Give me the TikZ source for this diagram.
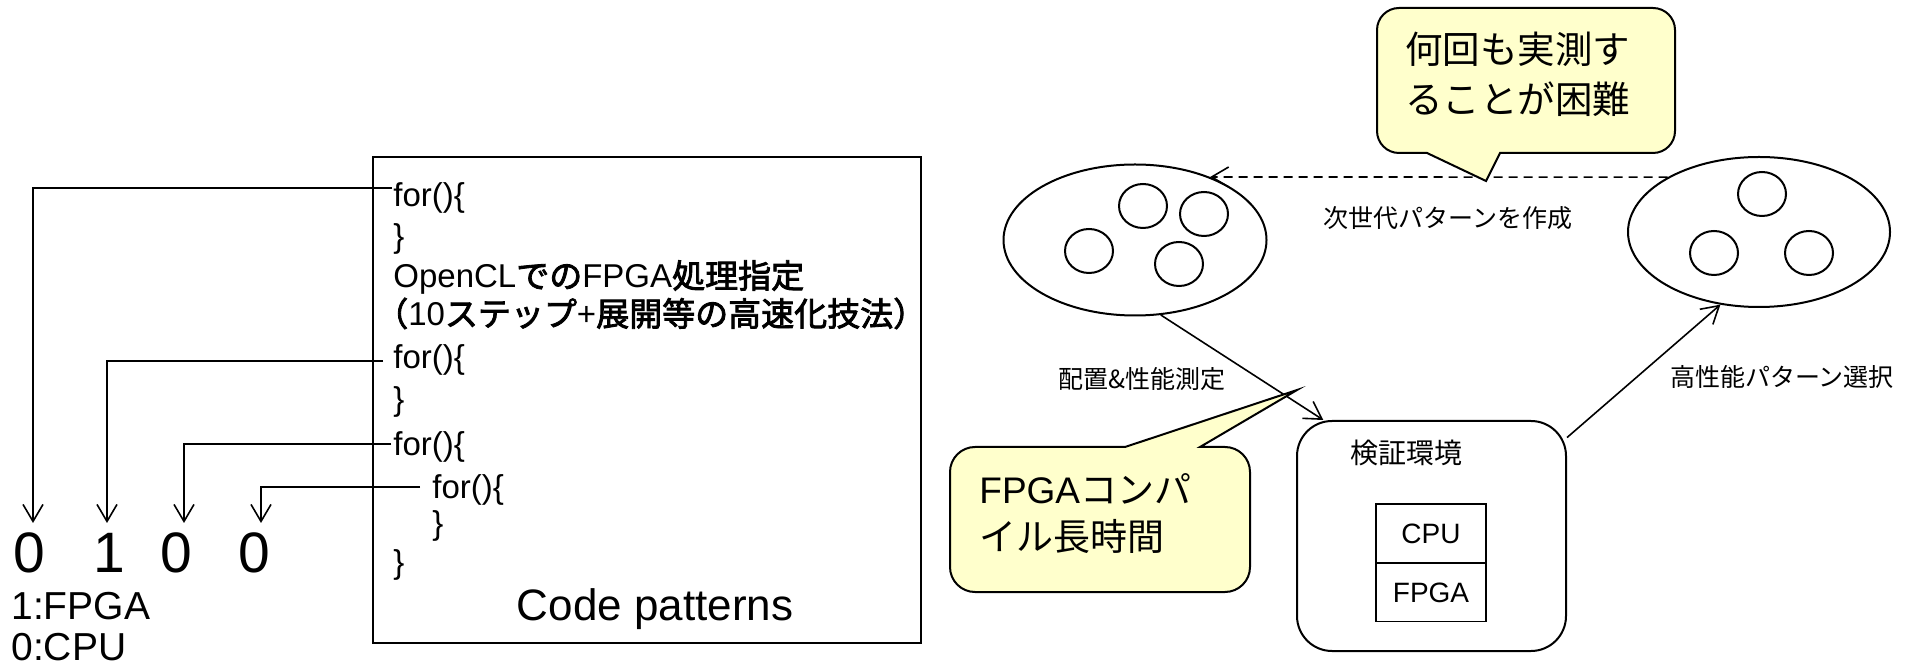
\documentclass[tikz,border=0pt]{standalone}
\usepackage{fontspec}
\setmainfont{Liberation Sans}
\newfontfamily\ja{Noto Sans CJK JP}
\newfontfamily\jab{Noto Sans CJK JP}[FakeBold=2.5]
\usetikzlibrary{arrows.meta,shapes.geometric}
\definecolor{calloutfill}{RGB}{255,255,204}
\tikzset{
  conn/.style={line width=0.8pt,-{Straight Barb[length=8.5pt,width=10pt]}},
  codeline/.style={anchor=base west,inner sep=0pt,font=\fontsize{16.5}{20}\selectfont},
  digit/.style={anchor=base,inner sep=0pt,font=\fontsize{28.5}{34}\selectfont},
  legend/.style={anchor=base west,inner sep=0pt,font=\fontsize{19.5}{23}\selectfont},
  pop/.style={ellipse,draw,line width=1pt,inner sep=0pt,minimum width=131.5pt,minimum height=75.5pt},
  pcirc/.style={ellipse,draw,line width=1pt,inner sep=0pt,minimum width=24pt,minimum height=22pt},
  lbl/.style={inner sep=0pt,font=\ja\fontsize{12.5}{15}\selectfont},
  callshape/.style={draw,line width=1pt,fill=calloutfill},
  calltext/.style={anchor=base west,inner sep=0pt,font=\fontsize{18.5}{22}\selectfont},
}
\begin{document}
\begin{tikzpicture}[x=0.5pt,y=-0.5pt]
\useasboundingbox (0,0) rectangle (1910,667);

% ---------- code box ----------
\node[draw,line width=0.8pt,minimum width=274pt,minimum height=243pt,inner sep=0pt] (codebox) at (647,400) {};
\node[codeline] (for1) at (393,207) {for()\{};
\node[codeline] (br1) at (393,248) {\}};
\node[codeline] (ocl) at (393,288) {OpenCL{\jab での}FPGA{\jab 処理指定}};
\node[codeline] (par) at (393,326) {{\jab\kern-0.55em （}10{\jab ステップ}+{\jab 展開等の高速化技法）}};
\node[codeline] (for2) at (393,369) {for()\{};
\node[codeline] (br2) at (393,411) {\}};
\node[codeline] (for3) at (393,456) {for()\{};
\node[codeline] (for4) at (432,499) {for()\{};
\node[codeline] (br3) at (432,534) {\}};
\node[codeline] (br4) at (393,573) {\}};
\node[anchor=base,inner sep=0pt,font=\fontsize{22}{26}\selectfont] (cpat) at (655,620) {Code patterns};

% ---------- digits ----------
\node[digit] (d1) at (29,572) {0};
\node[digit] (d2) at (109,572) {1};
\node[digit] (d3) at (176,572) {0};
\node[digit] (d4) at (254,572) {0};
\node[legend] (lg1) at (11,619) {1:FPGA};
\node[legend] (lg2) at (11,660) {0:CPU};

\coordinate (s1) at (392,188);
\coordinate (s2) at (383,361);
\coordinate (s3) at (391,444);
\coordinate (s4) at (420,487);
\coordinate (t1) at (33,523);
\coordinate (t2) at (107,523);
\coordinate (t3) at (184,523);
\coordinate (t4) at (261,523);
\draw[conn] (s1) -| (t1);
\draw[conn] (s2) -| (t2);
\draw[conn] (s3) -| (t3);
\draw[conn] (s4) -| (t4);

% ---------- populations ----------
\node[pop] (popL) at (1135,240) {};
\node[pcirc] (cL1) at (1143,206) {};
\node[pcirc] (cL2) at (1204,214) {};
\node[pcirc] (cL3) at (1089,251) {};
\node[pcirc] (cL4) at (1179,264) {};

\node[pop,minimum width=131pt,minimum height=75pt] (popR) at (1759,232) {};
\node[pcirc] (cR1) at (1762,194) {};
\node[pcirc] (cR2) at (1714,253) {};
\node[pcirc] (cR3) at (1809,253) {};

% ---------- verification environment ----------
\node[draw,line width=1pt,rounded corners=17.5pt,minimum width=134.5pt,minimum height=115pt,inner sep=0pt] (verify) at (1431.5,536) {};
\node[lbl,font=\ja\fontsize{14}{17}\selectfont] (vlabel) at (1406,453) {検証環境};
\node[draw,line width=0.8pt,minimum width=55pt,minimum height=29.5pt,inner sep=0pt,font=\fontsize{14}{17}\selectfont] (cpu) at (1431,533.5) {CPU};
\node[draw,line width=0.8pt,minimum width=55pt,minimum height=29pt,inner sep=0pt,font=\fontsize{14}{17}\selectfont] (fpga) at (1431,592.5) {FPGA};

% ---------- connectors ----------
\draw[conn,dashed,dash pattern=on 4.5pt off 3pt] (popR.149) -- (popL.40);
\draw[conn] (popL.-71) -- (verify.133);
\draw[conn] (verify.36) -- (popR.242);

\node[lbl] (lnext) at (1448,218) {次世代パターンを作成};
\node[lbl] (lmeas) at (1142,379) {配置\&性能測定};
\node[lbl] (lsel) at (1782,377) {高性能パターン選択};

% ---------- callouts ----------
\draw[callshape] (1427,153) -- (1486,181) -- (1500,153) -- (1653,153)
  arc[start angle=-90,end angle=0,radius=11pt] -- (1675,30)
  arc[start angle=0,end angle=90,radius=11pt] -- (1399,8)
  arc[start angle=90,end angle=180,radius=11pt] -- (1377,131)
  arc[start angle=180,end angle=270,radius=11pt] -- cycle;
\node[calltext,font=\ja\fontsize{18.75}{22}\selectfont] (top1) at (1405,64) {何回も実測す};
\node[calltext,font=\ja\fontsize{18.75}{22}\selectfont] (top2) at (1405,114) {ることが困難};

\draw[callshape] (1125,447) -- (1297,390) -- (1200,447) -- (1225,447)
  arc[start angle=90,end angle=0,radius=12.5pt] -- (1250,567)
  arc[start angle=0,end angle=-90,radius=12.5pt] -- (975,592)
  arc[start angle=270,end angle=180,radius=12.5pt] -- (950,472)
  arc[start angle=180,end angle=90,radius=12.5pt] -- cycle;
\node[calltext] (fp1) at (979,503) {FPGA{\ja コンパ}};
\node[calltext,font=\ja\fontsize{18.5}{22}\selectfont] (fp2) at (979,550) {イル長時間};
\end{tikzpicture}
\end{document}
